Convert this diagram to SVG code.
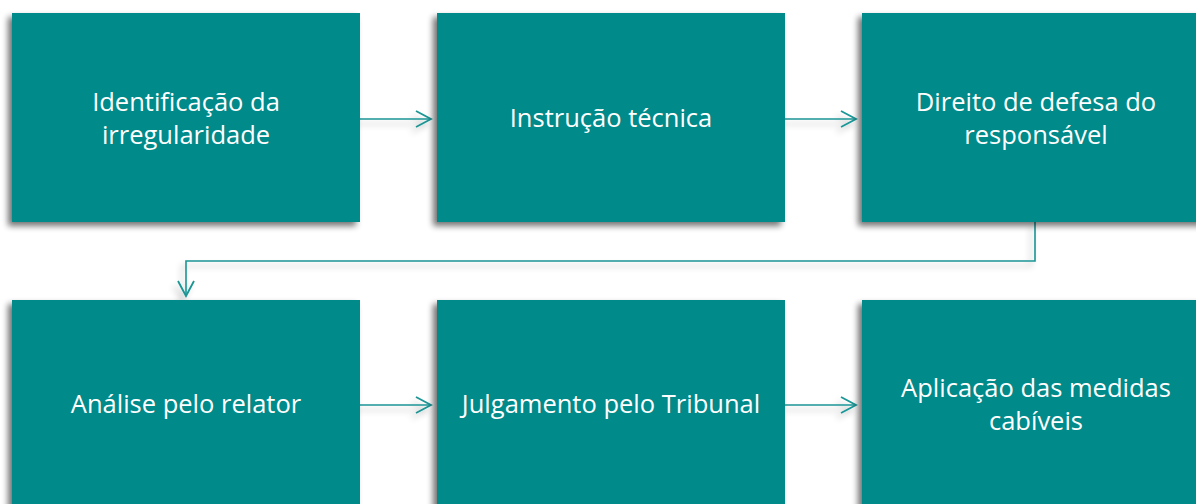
<svg xmlns="http://www.w3.org/2000/svg" width="1196" height="504" viewBox="0 0 1196 504">
<style>
.box{fill:#008a8a;filter:url(#sh);}
.t{font-family:"Open Sans","Noto Sans",sans-serif;font-size:25.5px;fill:#ffffff;text-anchor:middle;}
.c{fill:none;stroke:#1a9595;stroke-width:1.6;filter:url(#sh2);}
</style>
<defs>
<filter id="sh" x="-10%" y="-10%" width="120%" height="125%">
<feGaussianBlur in="SourceAlpha" stdDeviation="3"/>
<feOffset dx="-4" dy="4" result="b"/>
<feComponentTransfer><feFuncA type="linear" slope="0.55"/></feComponentTransfer>
<feMerge><feMergeNode/><feMergeNode in="SourceGraphic"/></feMerge>
</filter>
<filter id="sh2" filterUnits="userSpaceOnUse" x="0" y="0" width="1196" height="504">
<feGaussianBlur in="SourceAlpha" stdDeviation="3"/>
<feOffset dx="-4" dy="5"/>
<feComponentTransfer><feFuncA type="linear" slope="0.25"/></feComponentTransfer>
<feMerge><feMergeNode/><feMergeNode in="SourceGraphic"/></feMerge>
</filter>
<marker id="ah" viewBox="0 0 20 20" refX="18" refY="10" markerWidth="20" markerHeight="20" markerUnits="userSpaceOnUse" orient="auto">
<path d="M3,2 L18,10 L3,18" fill="none" stroke="#1a9595" stroke-width="1.8"/>
</marker>
</defs>
<g id="connectors">
<path class="c" d="M360,119 H431" marker-end="url(#ah)"/>
<path class="c" d="M785,119 H856" marker-end="url(#ah)"/>
<path class="c" d="M1035,222 V261 H186 V296" marker-end="url(#ah)"/>
<path class="c" d="M360,405 H431" marker-end="url(#ah)"/>
<path class="c" d="M785,405 H856" marker-end="url(#ah)"/>
</g>
<g id="n1"><rect class="box" x="12" y="13" width="348" height="209"/>
<text class="t" x="186" y="111">Identificação da</text><text class="t" x="186" y="144">irregularidade</text></g>
<g id="n2"><rect class="box" x="437" y="13" width="348" height="209"/>
<text class="t" x="611" y="127">Instrução técnica</text></g>
<g id="n3"><rect class="box" x="862" y="13" width="348" height="209"/>
<text class="t" x="1036" y="111">Direito de defesa do</text><text class="t" x="1036" y="144">responsável</text></g>
<g id="n4"><rect class="box" x="12" y="300" width="348" height="209"/>
<text class="t" x="186" y="413">Análise pelo relator</text></g>
<g id="n5"><rect class="box" x="437" y="300" width="348" height="209"/>
<text class="t" x="611" y="413">Julgamento pelo Tribunal</text></g>
<g id="n6"><rect class="box" x="862" y="300" width="348" height="209"/>
<text class="t" x="1036" y="397">Aplicação das medidas</text><text class="t" x="1036" y="430">cabíveis</text></g>
</svg>
